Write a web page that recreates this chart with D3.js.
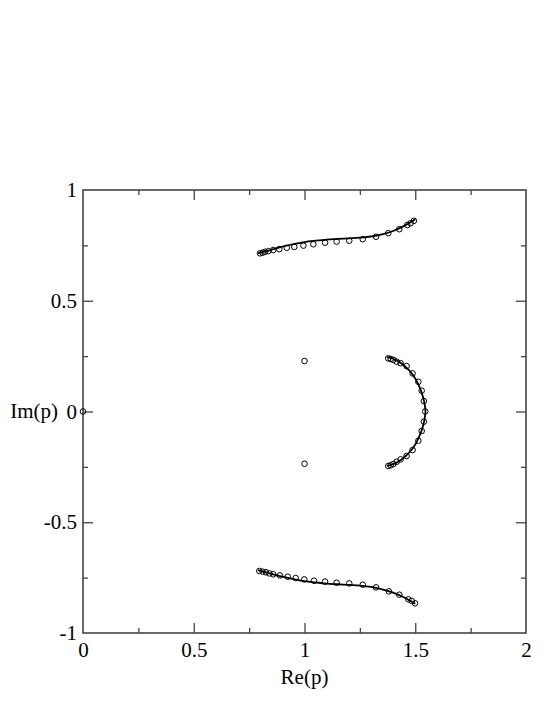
<!DOCTYPE html>
<html>
<head>
<meta charset="utf-8">
<script src="https://cdn.jsdelivr.net/npm/d3@7"></script>
<style>
  body { margin: 0; background: #fff; }
  text { font-family: "Liberation Serif", "DejaVu Serif", serif; }
</style>
</head>
<body>
<svg></svg>
<script>
// poles (circles)
const upperRe = [0.799, 0.811, 0.822, 0.837, 0.859, 0.886, 0.920, 0.954, 0.995, 1.040, 1.093, 1.145, 1.202, 1.263, 1.323, 1.378, 1.428, 1.464, 1.479, 1.494];
const upperIm = [0.714, 0.717, 0.721, 0.724, 0.729, 0.733, 0.739, 0.743, 0.749, 0.755, 0.762, 0.767, 0.771, 0.778, 0.789, 0.805, 0.823, 0.842, 0.850, 0.861];
const lowerRe = [0.796, 0.811, 0.826, 0.841, 0.859, 0.889, 0.924, 0.960, 0.999, 1.043, 1.093, 1.145, 1.202, 1.263, 1.323, 1.381, 1.428, 1.469, 1.484, 1.499];
const lowerIm = [-0.720, -0.723, -0.726, -0.731, -0.735, -0.740, -0.746, -0.752, -0.758, -0.764, -0.768, -0.773, -0.776, -0.782, -0.794, -0.812, -0.827, -0.848, -0.855, -0.866];
const arcRe = [1.378, 1.389, 1.401, 1.416, 1.434, 1.461, 1.488, 1.514, 1.529, 1.539, 1.545, 1.539, 1.529, 1.514, 1.488, 1.461, 1.434, 1.416, 1.401, 1.389, 1.378];
const arcIm = [0.240, 0.237, 0.233, 0.225, 0.218, 0.205, 0.172, 0.134, 0.094, 0.047, 0.000, -0.046, -0.088, -0.132, -0.174, -0.201, -0.216, -0.227, -0.237, -0.243, -0.246];
const loneRe = [1.0, 1.0, 0.0];
const loneIm = [0.228, -0.236, 0.0];

// continuous curves
const curveUpperRe = [0.79, 0.85, 0.90, 0.95, 1.00, 1.05, 1.10, 1.15, 1.20, 1.25, 1.30, 1.35, 1.40, 1.45, 1.50];
const curveUpperIm = [0.714, 0.730, 0.744, 0.756, 0.765, 0.771, 0.776, 0.779, 0.782, 0.785, 0.790, 0.800, 0.815, 0.838, 0.868];
const curveLowerRe = [0.79, 0.85, 0.90, 0.95, 1.00, 1.05, 1.10, 1.15, 1.20, 1.25, 1.30, 1.35, 1.40, 1.45, 1.50];
const curveLowerIm = [-0.716, -0.733, -0.746, -0.757, -0.766, -0.772, -0.777, -0.780, -0.783, -0.786, -0.792, -0.803, -0.818, -0.840, -0.868];
const curveArcRe = [1.372, 1.40, 1.43, 1.46, 1.49, 1.515, 1.535, 1.546, 1.535, 1.515, 1.49, 1.46, 1.43, 1.40, 1.372];
const curveArcIm = [0.245, 0.238, 0.222, 0.198, 0.165, 0.120, 0.065, 0.0, -0.065, -0.120, -0.165, -0.198, -0.222, -0.238, -0.245];

const xMajor = [0, 0.5, 1, 1.5, 2];
const xMinor = [0.25, 0.75, 1.25, 1.75];
const yMajor = [-1, -0.5, 0, 0.5, 1];
const yMinor = [-0.75, -0.25, 0.25, 0.75];

let width = 554;
let height = 717;
const svg = d3.select("svg").attr("width", width).attr("height", height);

let pLeft = 83, pRight = 526, pTop = 190, pBottom = 633;
let x = d3.scaleLinear().domain([0, 2]).range([pLeft, pRight]);
let y = d3.scaleLinear().domain([-1, 1]).range([pBottom, pTop]);

// plain hyphen for negatives, like the original
let fmt = function (d) { return String(d); };
let axisColor = "#444";
let fontSize = "21px";

// major + minor ticks on all four sides, pointing inward
function drawAxis(maker, scale, pos, vals, size, labels) {
    let a = maker(scale).tickValues(vals).tickSizeInner(-size).tickSizeOuter(0)
        .tickPadding(labels ? 6 : 0)
        .tickFormat(labels ? fmt : "");
    let g = svg.append("g").attr("transform", pos).call(a);
    g.select(".domain").remove();
    g.selectAll("line").attr("stroke", axisColor).attr("stroke-width", 1.3);
    g.selectAll("text").style("font-size", fontSize).attr("fill", "#000")
        .style("font-family", '"Liberation Serif", serif');
    return g;
}

drawAxis(d3.axisBottom, x, `translate(0,${pBottom})`, xMajor.slice(1, 4), 10, false);
drawAxis(d3.axisBottom, x, `translate(0,${pBottom})`, xMinor, 5, false);
let xl = drawAxis(d3.axisBottom, x, `translate(0,${pBottom})`, xMajor, 0, true);
xl.selectAll("text").attr("y", 24).attr("dy", 0);
drawAxis(d3.axisTop, x, `translate(0,${pTop})`, xMajor.slice(1, 4), 10, false);
drawAxis(d3.axisTop, x, `translate(0,${pTop})`, xMinor, 5, false);
drawAxis(d3.axisLeft, y, `translate(${pLeft},0)`, yMajor.slice(1, 4), 10, false);
drawAxis(d3.axisLeft, y, `translate(${pLeft},0)`, yMinor, 5, false);
let yl = drawAxis(d3.axisLeft, y, `translate(${pLeft},0)`, yMajor, 0, true);
yl.selectAll("text").attr("x", -6);
drawAxis(d3.axisRight, y, `translate(${pRight},0)`, yMajor.slice(1, 4), 10, false);
drawAxis(d3.axisRight, y, `translate(${pRight},0)`, yMinor, 5, false);

// frame
svg.append("rect")
    .attr("x", pLeft).attr("y", pTop)
    .attr("width", pRight - pLeft).attr("height", pBottom - pTop)
    .attr("fill", "none").attr("stroke", axisColor).attr("stroke-width", 1.6);

// axis titles
svg.append("text").attr("x", (pLeft + pRight) / 2).attr("y", 684)
    .attr("text-anchor", "middle").style("font-size", fontSize).text("Re(p)");
svg.append("text").attr("x", 58).attr("y", y(0)).attr("dy", "0.32em")
    .attr("text-anchor", "end").style("font-size", fontSize).text("Im(p)");

// curves
let line = d3.line()
    .x(function (d) { return x(d[0]); })
    .y(function (d) { return y(d[1]); })
    .curve(d3.curveCatmullRom);

[[curveUpperRe, curveUpperIm], [curveLowerRe, curveLowerIm], [curveArcRe, curveArcIm]]
    .forEach(function (c) {
        svg.append("path")
            .datum(d3.zip(c[0], c[1]))
            .attr("d", line)
            .attr("fill", "none")
            .attr("stroke", "#000")
            .attr("stroke-width", 1.8);
    });

// poles
let pts = d3.zip(upperRe, upperIm)
    .concat(d3.zip(lowerRe, lowerIm))
    .concat(d3.zip(arcRe, arcIm))
    .concat(d3.zip(loneRe, loneIm));

svg.selectAll("circle.pole")
    .data(pts)
    .enter()
    .append("circle")
    .attr("class", "pole")
    .attr("cx", function (d) { return x(d[0]); })
    .attr("cy", function (d) { return y(d[1]); })
    .attr("r", 2.8)
    .style("fill", "none")
    .style("stroke", "#000")
    .style("stroke-width", 1);
</script>
</body>
</html>
